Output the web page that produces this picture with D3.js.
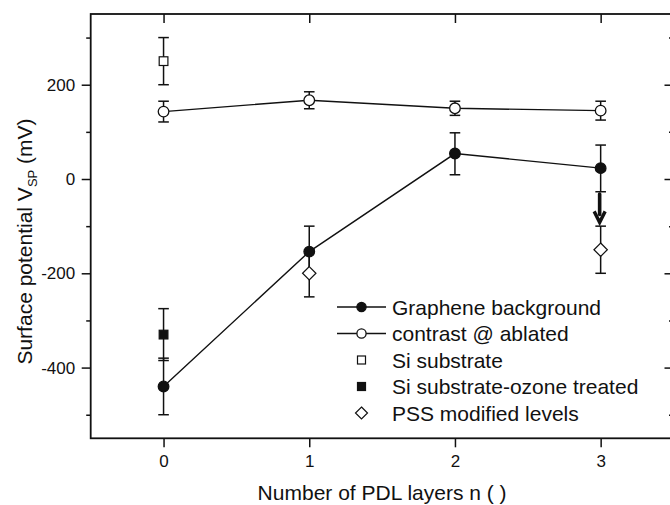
<!DOCTYPE html>
<html><head><meta charset="utf-8">
<script src="https://cdn.jsdelivr.net/npm/d3@7"></script>
<style>
body{margin:0;background:#fff}
svg{display:block}
text{font-family:"Liberation Sans",Arial,Helvetica,sans-serif;fill:#111}
</style>
</head><body>
<svg id="c" width="670" height="505"></svg>
<script>
// ---- data ----
const layers = [0, 1, 2, 3];
const xTicks = [0, 1, 2, 3];
const yTicksMajor = [-400, -200, 0, 200];
const yTicksMinor = [-500, -300, -100, 100, 300];
const graphene = [-440, -154, 54, 23];
const grapheneErrUp = [60, 54, 44, 49];
const grapheneErrDown = [60, 46, 45, 50];
const contrast = [143, 167, 150, 145];
const contrastErr = [22, 18, 15, 20];
const siX = [0], si = [250], siErr = [50];
const ozoneX = [0], ozone = [-330], ozoneErr = [55];
const pssX = [1, 3], pss = [-200, -150], pssErr = [50, 50];
const arrowX = [3], arrowFrom = [-32], arrowTo = [-92];
const legendLabels = ["Graphene background", "contrast @ ablated", "Si substrate", "Si substrate-ozone treated", "PSS modified levels"];
const xTitle = "Number of PDL layers n ( )";

// ---- layout ----
const svg = d3.select("#c");
const L = 90.7, R = 673.5, T = 14, B = 438.3;
const x = d3.scaleLinear().domain([-0.5, 3.5]).range([L, R]);
const y = d3.scaleLinear().domain([-550, 350]).range([B, T]);
const ink = "#111";

// frame
svg.append("rect").attr("x", L).attr("y", T).attr("width", R - L).attr("height", B - T)
  .attr("fill", "none").attr("stroke", ink).attr("stroke-width", 1.8);

function styleAxis(g) {
  g.select(".domain").remove();
  g.selectAll("line").attr("stroke", ink).attr("stroke-width", 1.5);
  g.selectAll("text").attr("font-size", 17).attr("fill", ink)
    .attr("font-family", '"Liberation Sans",Arial,Helvetica,sans-serif');
}
// left axis
svg.append("g").attr("transform", `translate(${L},0)`)
  .call(d3.axisLeft(y).tickValues(yTicksMajor).tickSize(9).tickPadding(6.5).tickFormat(d => String(d)))
  .call(styleAxis);
svg.append("g").attr("transform", `translate(${L},0)`)
  .call(d3.axisLeft(y).tickValues(yTicksMinor).tickSize(4.5).tickFormat(""))
  .call(styleAxis);
// bottom axis
svg.append("g").attr("transform", `translate(0,${B})`)
  .call(d3.axisBottom(x).tickValues(xTicks).tickSize(9).tickPadding(7.7).tickFormat(d => String(d)))
  .call(styleAxis);
// top ticks (inward)
svg.append("g").attr("transform", `translate(0,${T})`)
  .call(d3.axisTop(x).tickValues(xTicks).tickSize(-9).tickFormat(""))
  .call(styleAxis);
// right ticks (inward)
svg.append("g").attr("transform", `translate(${R},0)`)
  .call(d3.axisRight(y).tickValues(yTicksMajor).tickSize(-9).tickFormat(""))
  .call(styleAxis);
svg.append("g").attr("transform", `translate(${R},0)`)
  .call(d3.axisRight(y).tickValues(yTicksMinor).tickSize(-4.5).tickFormat(""))
  .call(styleAxis);

// axis titles
const yl = svg.append("text").attr("transform", `translate(31.7,241.5) rotate(-90)`)
  .attr("text-anchor", "middle").attr("font-size", 21);
yl.append("tspan").text("Surface potential V");
yl.append("tspan").attr("font-size", 13).attr("dy", 5).text("SP");
yl.append("tspan").attr("dy", -5).text(" (mV)");
svg.append("text").attr("x", (L + R) / 2).attr("y", 500).attr("text-anchor", "middle")
  .attr("font-size", 21).text(xTitle);

// ---- marks ----
const line = d3.line().x(d => x(d[0])).y(d => y(d[1]));
const cap = 5.3;
function errBar(cx, lo, hi) {
  const g = svg.append("g").attr("stroke", ink).attr("stroke-width", 1.5);
  g.append("line").attr("x1", x(cx)).attr("x2", x(cx)).attr("y1", y(lo)).attr("y2", y(hi));
  g.append("line").attr("x1", x(cx) - cap).attr("x2", x(cx) + cap).attr("y1", y(lo)).attr("y2", y(lo));
  g.append("line").attr("x1", x(cx) - cap).attr("x2", x(cx) + cap).attr("y1", y(hi)).attr("y2", y(hi));
}
// lines
svg.append("path").datum(layers.map((d, i) => [d, graphene[i]])).attr("d", line)
  .attr("fill", "none").attr("stroke", ink).attr("stroke-width", 1.4);
svg.append("path").datum(layers.map((d, i) => [d, contrast[i]])).attr("d", line)
  .attr("fill", "none").attr("stroke", ink).attr("stroke-width", 1.4);
// error bars
layers.forEach((d, i) => errBar(d, graphene[i] - grapheneErrDown[i], graphene[i] + grapheneErrUp[i]));
layers.forEach((d, i) => errBar(d, contrast[i] - contrastErr[i], contrast[i] + contrastErr[i]));
siX.forEach((d, i) => errBar(d, si[i] - siErr[i], si[i] + siErr[i]));
ozoneX.forEach((d, i) => errBar(d, ozone[i] - ozoneErr[i], ozone[i] + ozoneErr[i]));
pssX.forEach((d, i) => errBar(d, pss[i] - pssErr[i], pss[i] + pssErr[i]));

// symbols
function circle(g, cx, cy, r, filled) {
  g.append("circle").attr("cx", cx).attr("cy", cy).attr("r", r)
    .attr("fill", filled ? ink : "#fff").attr("stroke", ink).attr("stroke-width", 1.3);
}
function square(g, cx, cy, s, filled) {
  g.append("rect").attr("x", cx - s / 2).attr("y", cy - s / 2).attr("width", s).attr("height", s)
    .attr("fill", filled ? ink : "#fff").attr("stroke", ink).attr("stroke-width", 1.2);
}
function diamond(g, cx, cy, h) {
  g.append("path").attr("d", `M${cx},${cy - h}L${cx + h},${cy}L${cx},${cy + h}L${cx - h},${cy}Z`)
    .attr("fill", "#fff").attr("stroke", ink).attr("stroke-width", 1.2);
}
const sym = svg.append("g");
layers.forEach((d, i) => circle(sym, x(d), y(graphene[i]), 5.3, true));
layers.forEach((d, i) => circle(sym, x(d), y(contrast[i]), 5.3, false));
siX.forEach((d, i) => square(sym, x(d), y(si[i]), 8.7, false));
ozoneX.forEach((d, i) => square(sym, x(d), y(ozone[i]), 8.7, true));
pssX.forEach((d, i) => diamond(sym, x(d), y(pss[i]), 6.7));

// arrow
arrowX.forEach((d, i) => {
  const ax = x(d) - 1, y0 = y(arrowFrom[i]), y1 = y(arrowTo[i]);
  svg.append("line").attr("x1", ax).attr("x2", ax).attr("y1", y0).attr("y2", y1 - 8)
    .attr("stroke", ink).attr("stroke-width", 3.6).attr("stroke-linecap", "round");
  svg.append("path").attr("d", `M${ax - 5.5},${y1 - 11}L${ax},${y1}L${ax + 5.5},${y1 - 11}`)
    .attr("fill", "none").attr("stroke", ink).attr("stroke-width", 3.4).attr("stroke-linejoin", "miter");
});

// legend
const lg = svg.append("g");
const lx0 = 337, lx1 = 386, lxm = 361.5, ltx = 392, ly0 = 307, ldy = 26.5;
legendLabels.forEach((t, i) => {
  const yy = ly0 + i * ldy;
  if (i < 2) {
    lg.append("line").attr("x1", lx0).attr("x2", lx1).attr("y1", yy).attr("y2", yy)
      .attr("stroke", ink).attr("stroke-width", 1.4);
    circle(lg, lxm, yy, 4.6, i === 0);
  } else if (i === 2) square(lg, lxm, yy, 8, false);
  else if (i === 3) square(lg, lxm, yy, 8, true);
  else diamond(lg, lxm, yy, 6);
  lg.append("text").attr("x", ltx).attr("y", yy).attr("dy", "0.36em").attr("font-size", 21).text(t);
});
</script>
</body></html>
